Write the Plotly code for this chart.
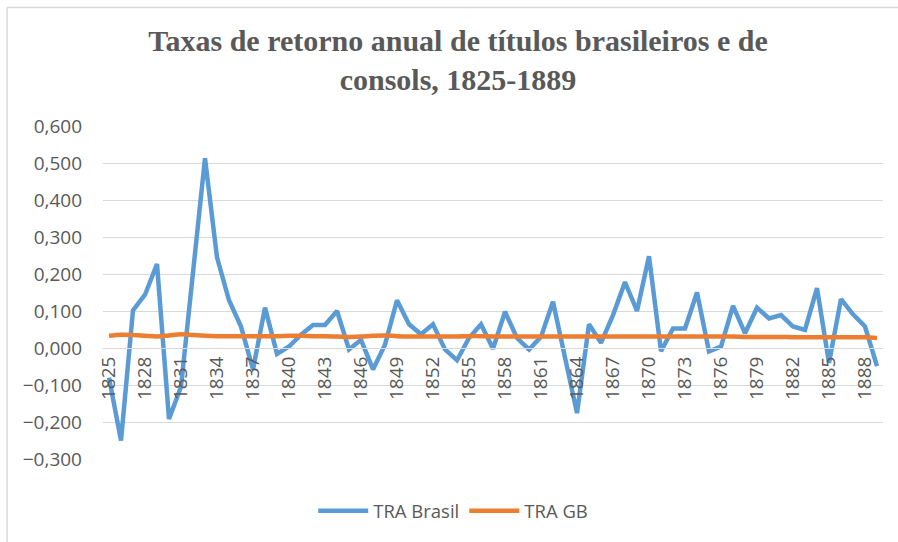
import plotly.graph_objects as go

years = [str(y) for y in range(1825, 1890)]

tra_brasil = [
    -0.080, -0.250, 0.102, 0.144, 0.227, -0.192, -0.105, 0.200, 0.513, 0.245,
    0.129, 0.058, -0.058, 0.109, -0.016, 0.004, 0.036, 0.062, 0.062, 0.100,
    -0.004, 0.022, -0.058, 0.009, 0.129, 0.064, 0.037, 0.064, -0.004, -0.033,
    0.027, 0.064, -0.002, 0.098, 0.027, -0.004, 0.030, 0.125, -0.020, -0.176,
    0.064, 0.014, 0.089, 0.178, 0.100, 0.248, -0.009, 0.053, 0.053, 0.150,
    -0.009, 0.004, 0.114, 0.040, 0.109, 0.080, 0.089, 0.058, 0.049, 0.162,
    -0.040, 0.132, 0.091, 0.058, -0.049,
]

tra_gb = [
    0.033, 0.036, 0.035, 0.033, 0.031, 0.034, 0.037, 0.035, 0.033, 0.032,
    0.032, 0.032, 0.032, 0.032, 0.032, 0.033, 0.033, 0.032, 0.032, 0.031,
    0.030, 0.031, 0.033, 0.034, 0.032, 0.031, 0.031, 0.031, 0.031, 0.031,
    0.032, 0.032, 0.031, 0.031, 0.031, 0.031, 0.031, 0.031, 0.031, 0.031,
    0.031, 0.031, 0.031, 0.031, 0.031, 0.031, 0.031, 0.031, 0.031, 0.031,
    0.031, 0.031, 0.031, 0.030, 0.030, 0.030, 0.030, 0.029, 0.029, 0.029,
    0.029, 0.029, 0.029, 0.029, 0.027,
]

tick_years = [str(y) for y in range(1825, 1890, 3)]
y_ticks = [-0.3, -0.2, -0.1, 0.0, 0.1, 0.2, 0.3, 0.4, 0.5, 0.6]

TXT = "#595959"
GRID = "#d9d9d9"
FONT = "Open Sans, Lato, sans-serif"

fig = go.Figure()
fig.add_trace(go.Scatter(x=years, y=tra_brasil, mode="lines", name="TRA Brasil",
                         line=dict(color="#5b9bd5", width=4.5, shape="linear")))
fig.add_trace(go.Scatter(x=years, y=tra_gb, mode="lines", name="TRA GB",
                         line=dict(color="#ed7d31", width=4.5, shape="spline")))

fig.update_layout(
    width=898, height=542,
    margin=dict(l=103, r=15, t=126, b=79),
    paper_bgcolor="white", plot_bgcolor="white",
    separators=",.",
    title=dict(
        text="<b>Taxas de retorno anual de títulos brasileiros e de<br>consols, 1825-1889</b>",
        x=0.51, xanchor="center", y=0.905, yanchor="top",
        font=dict(family="Liberation Serif, Times New Roman, serif", size=30, color=TXT),
    ),
    showlegend=True,
    legend=dict(orientation="h", x=0.449, xanchor="center", y=-0.157, yanchor="middle",
                font=dict(family=FONT, size=18.5, color=TXT), itemwidth=50,
                bgcolor="rgba(0,0,0,0)"),
    xaxis=dict(
        type="category", range=[-0.5, len(years) - 0.5],
        tickmode="array", tickvals=tick_years, ticktext=tick_years,
        tickangle=-90, showgrid=False, showline=True, linecolor=GRID, linewidth=1,
        ticks="", anchor="free", position=1/3,
        tickfont=dict(family=FONT, size=19, color=TXT),
    ),
    yaxis=dict(
        range=[-0.3, 0.6], tickmode="array", tickvals=y_ticks, tickformat=".3f",
        showgrid=True, gridcolor=GRID, gridwidth=1.3, zeroline=False,
        ticks="", ticklabelstandoff=20,
        tickfont=dict(family=FONT, size=19, color=TXT),
    ),
    shapes=[
        dict(type="line", xref="paper", yref="paper", x0=-0.123, x1=1.03, y0=1.356, y1=1.356,
             line=dict(color=GRID, width=1.5)),
        dict(type="line", xref="paper", yref="paper", x0=-0.123, x1=-0.123, y0=1.356, y1=-0.25,
             line=dict(color=GRID, width=1.5)),
    ],
)

fig.write_html("out.html", config={"displayModeBar": False},
               post_script="document.body.style.margin='0';document.body.style.padding='0';")
